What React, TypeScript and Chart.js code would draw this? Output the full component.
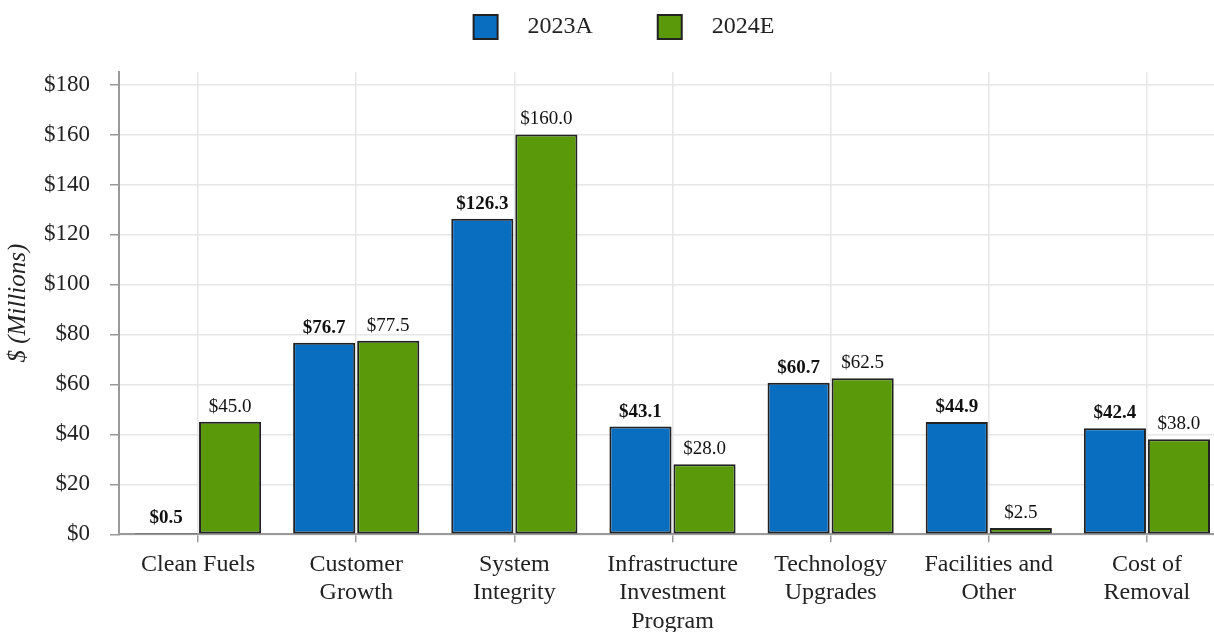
import React, { useEffect, useRef } from "react";
import { Chart, registerables } from "chart.js";

Chart.register(...registerables);

const categories: (string | string[])[] = [
  "Clean Fuels",
  ["Customer", "Growth"],
  ["System", "Integrity"],
  ["Infrastructure", "Investment", "Program"],
  ["Technology", "Upgrades"],
  ["Facilities and", "Other"],
  ["Cost of", "Removal"],
];
const series2023A = [0.5, 76.7, 126.3, 43.1, 60.7, 44.9, 42.4];
const series2024E = [45.0, 77.5, 160.0, 28.0, 62.5, 2.5, 38.0];
const yTicks = [0, 20, 40, 60, 80, 100, 120, 140, 160, 180];

const FONT = "'Liberation Serif', 'Times New Roman', serif";

const valueLabels = {
  id: "valueLabels",
  afterDatasetsDraw(chart: any) {
    const ctx = chart.ctx;
    chart.data.datasets.forEach((ds: any, di: number) => {
      const meta = chart.getDatasetMeta(di);
      meta.data.forEach((bar: any, i: number) => {
        const v = ds.data[i];
        ctx.save();
        ctx.font = (di === 0 ? "bold " : "") + "19px " + FONT;
        ctx.fillStyle = "#111";
        ctx.textAlign = "center";
        ctx.textBaseline = "alphabetic";
        ctx.fillText("$" + v.toFixed(1), bar.x, bar.y - 10);
        ctx.restore();
      });
    });
  },
};

const legendTweak = {
  id: "legendTweak",
  afterInit(chart: any) {
    const legend = chart.legend;
    if (!legend) return;
    const fit = legend.fit;
    legend.fit = function () {
      fit.call(this);
      this.height += 23;
    };
    const draw = legend.draw;
    legend.draw = function () {
      const ctx = chart.ctx;
      ctx.save();
      ctx.translate(11, 0);
      draw.call(this);
      ctx.restore();
    };
  },
};

export default function App() {
  const ref = useRef<HTMLCanvasElement | null>(null);
  useEffect(() => {
    if (!ref.current) return;
    const chart = new Chart(ref.current, {
      type: "bar",
      data: {
        labels: categories,
        datasets: [
          {
            label: "2023A",
            data: series2023A,
            backgroundColor: "#0A6EC0",
            borderColor: "#222",
            borderWidth: 2,
            borderSkipped: false,
          },
          {
            label: "2024E",
            data: series2024E,
            backgroundColor: "#5A990A",
            borderColor: "#222",
            borderWidth: 2,
            borderSkipped: false,
          },
        ],
      },
      options: {
        responsive: false,
        animation: false,
        datasets: {
          bar: { categoryPercentage: 0.81, barPercentage: 0.97 },
        },
        layout: { padding: { left: 0, right: 14, top: 3, bottom: 0 } },
        plugins: {
          legend: {
            position: "top",
            labels: {
              font: { family: FONT, size: 24 },
              color: "#222",
              boxWidth: 24,
              boxHeight: 24,
              padding: 12,
              generateLabels: (c: any) =>
                c.data.datasets.map((ds: any, i: number) => ({
                  text: "   " + ds.label + (i === 0 ? "        \u2009" : ""),
                  fillStyle: ds.backgroundColor,
                  strokeStyle: "#222",
                  lineWidth: 2,
                  datasetIndex: i,
                  hidden: false,
                  fontColor: "#222",
                })),
            },
          },
          tooltip: { enabled: false },
        },
        scales: {
          x: {
            grid: {
              offset: false,
              color: "#e6e6e6",
              lineWidth: 1.5,
              tickColor: "#999",
              tickLength: 8,
            },
            border: { color: "#999", width: 2 },
            ticks: {
              font: { family: FONT, size: 24, lineHeight: 1.19 },
              color: "#222",
              padding: 8,
              maxRotation: 0,
              autoSkip: false,
            },
          },
          y: {
            min: 0,
            max: 185,
            afterBuildTicks: (axis: any) => {
              axis.ticks = yTicks.map((v) => ({ value: v }));
            },
            grid: {
              color: "#e6e6e6",
              lineWidth: 1.5,
              tickColor: "#999",
              tickLength: 9,
            },
            border: { color: "#999", width: 2 },
            ticks: {
              font: { family: FONT, size: 23 },
              color: "#222",
              padding: 20,
              callback: (v: any) => "$" + v,
            },
            title: {
              display: true,
              text: "$ (Millions)",
              font: { family: FONT, size: 25, style: "italic", lineHeight: 1.2 },
              color: "#222",
              padding: { top: 3, bottom: -9 },
            },
          },
        },
      },
      plugins: [valueLabels, legendTweak],
    });
    return () => chart.destroy();
  }, []);
  return (
    <div
      style={{
        position: "fixed",
        left: 0,
        top: 0,
        width: 1214,
        height: 632,
        overflow: "hidden",
        background: "#fff",
      }}
    >
      <canvas ref={ref} width={1240} height={644} style={{ display: "block" }} />
    </div>
  );
}
